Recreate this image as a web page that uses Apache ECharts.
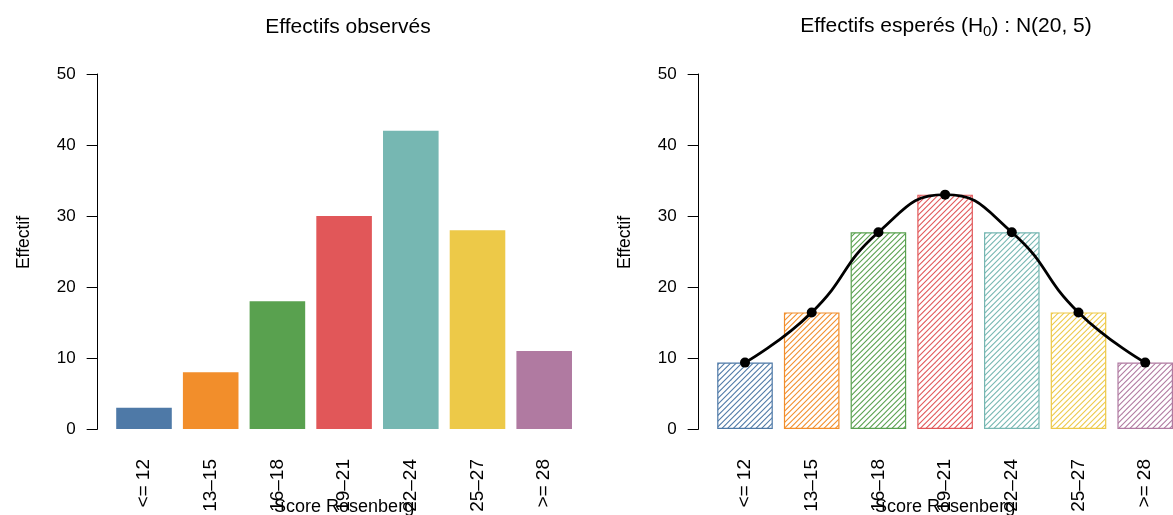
<!DOCTYPE html>
<html>
<head>
<meta charset="utf-8">
<script src="https://cdn.jsdelivr.net/npm/echarts@6/dist/echarts.min.js"></script>
<style>
  html, body { margin: 0; padding: 0; background: #ffffff; }
  #chart { width: 1173px; height: 515px; }
</style>
</head>
<body>
<div id="chart"></div>
<script>
// Rosenberg score classes
const categories = ['<= 12', '13\u201315', '16\u201318', '19\u201321', '22\u201324', '25\u201327', '>= 28'];
// Observed counts per class
const observed = [3, 8, 18, 30, 42, 28, 11];
// Expected counts under H0 : N(20, 5)
const expected = [9.35, 16.42, 27.72, 33.01, 27.72, 16.42, 9.35];
// Value axis range
const yMin = 0;
const yMax = 50;
const yStep = 10;

const palette = ['#4E79A7', '#F28E2B', '#59A14F', '#E15759', '#76B7B2', '#EDC948', '#B07AA1'];
const FONT = '"Liberation Sans", Arial, Helvetica, sans-serif';

// Diagonal hatching tile for a given colour (three lines per 17px tile)
function hatch(color) {
  const size = 17;
  const step = size / 3;
  const c = document.createElement('canvas');
  c.width = size; c.height = size;
  const ctx = c.getContext('2d');
  ctx.strokeStyle = color;
  ctx.globalAlpha = 1;
  ctx.lineWidth = 1.1;
  for (let k = -2 * size; k <= 2 * size; k += step) {
    ctx.beginPath();
    ctx.moveTo(k - size, size + size);
    ctx.lineTo(k + size + size, -size);
    ctx.stroke();
  }
  return c;
}

const slot = 66.7;
const gridTop = 74;
const gridH = 355;
const leftGrid = { left: 144 - slot / 2, top: gridTop, width: slot * 7, height: gridH, outerBoundsMode: 'none' };
const rightGrid = { left: 745 - slot / 2, top: gridTop, width: slot * 7, height: gridH, outerBoundsMode: 'none' };

function yAxisFor(idx) {
  return {
    type: 'value', gridIndex: idx, min: yMin, max: yMax, interval: yStep,
    offset: 13,
    name: 'Effectif', nameLocation: 'middle', nameGap: 64, nameMoveOverlap: false,
    nameTextStyle: { color: '#000', fontSize: 17.5, fontFamily: FONT, padding: [0, 0, 0, 18] },
    axisLine: { show: true, lineStyle: { color: '#000', width: 1 } },
    axisTick: { show: true, length: 11, lineStyle: { color: '#000', width: 1 } },
    axisLabel: { color: '#000', fontSize: 17, fontFamily: FONT, margin: 22 },
    splitLine: { show: false }
  };
}

function xAxisFor(idx) {
  return {
    type: 'category', gridIndex: idx, data: categories,
    name: 'Score Rosenberg', nameLocation: 'middle', nameGap: 69, nameMoveOverlap: false,
    nameTextStyle: { color: '#000', fontSize: 18, fontFamily: FONT },
    axisLine: { show: false }, axisTick: { show: false },
    axisLabel: { rotate: 90, color: '#000', fontSize: 19, fontFamily: FONT, margin: 30, interval: 0 }
  };
}

const chart = echarts.init(document.getElementById('chart'), null, { renderer: 'canvas' });

chart.setOption({
  animation: false,
  backgroundColor: '#ffffff',
  title: [
    {
      text: 'Effectifs observés', left: 343, top: 12, textAlign: 'center',
      textStyle: { color: '#000', fontWeight: 'normal', fontSize: 21, fontFamily: FONT }
    },
    {
      text: 'Effectifs esperés (H{sub|0}) : N(20, 5)', left: 941, top: 9, textAlign: 'center',
      textStyle: {
        color: '#000', fontWeight: 'normal', fontSize: 21, fontFamily: FONT,
        rich: {
          sub: { fontSize: 15, fontFamily: FONT, color: '#000', verticalAlign: 'bottom', padding: [10, 0, 0, 0] }
        }
      }
    }
  ],
  grid: [leftGrid, rightGrid],
  xAxis: [xAxisFor(0), xAxisFor(1)],
  yAxis: [yAxisFor(0), yAxisFor(1)],
  series: [
    {
      type: 'bar', xAxisIndex: 0, yAxisIndex: 0, barCategoryGap: '16.67%',
      data: observed.map((v, i) => ({ value: v, itemStyle: { color: palette[i] } }))
    },
    {
      type: 'bar', xAxisIndex: 1, yAxisIndex: 1, barCategoryGap: '16.67%',
      data: expected.map((v, i) => ({
        value: v,
        itemStyle: {
          color: { image: hatch(palette[i]), repeat: 'repeat' },
          borderColor: palette[i], borderWidth: 1.2
        }
      }))
    },
    {
      type: 'line', xAxisIndex: 1, yAxisIndex: 1, data: expected, smooth: 0.5,
      symbol: 'circle', symbolSize: 10, z: 5,
      itemStyle: { color: '#000' },
      lineStyle: { color: '#000', width: 2.8 }
    }
  ]
});
</script>
</body>
</html>
